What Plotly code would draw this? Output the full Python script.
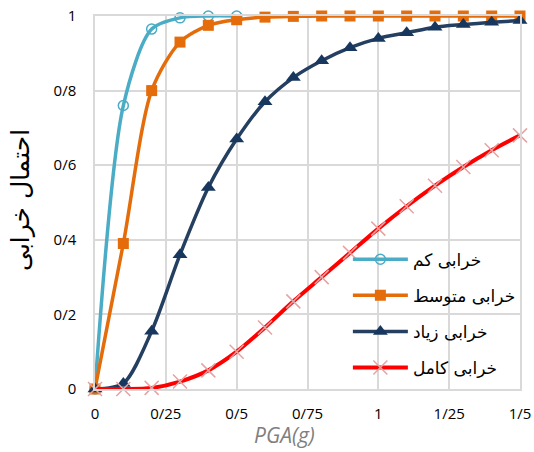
import plotly.graph_objects as go

pga = [0, 0.1, 0.2, 0.3, 0.4, 0.5, 0.6, 0.7, 0.8, 0.9, 1.0, 1.1, 1.2, 1.3, 1.4, 1.5]
pga_low = [0, 0.1, 0.2, 0.3, 0.4, 0.5]
low = [0, 0.76, 0.965, 0.995, 1.0, 1.0]
moderate = [0, 0.39, 0.80, 0.93, 0.975, 0.99, 0.997, 0.999, 1.0, 1.0, 1.0, 1.0, 1.0, 1.0, 1.0, 1.0]
extensive = [0, 0.015, 0.155, 0.36, 0.54, 0.67, 0.77, 0.835, 0.88, 0.915, 0.94, 0.955, 0.97, 0.977, 0.983, 0.988]
complete = [0, 0.0, 0.003, 0.02, 0.05, 0.10, 0.165, 0.235, 0.30, 0.365, 0.43, 0.49, 0.545, 0.595, 0.64, 0.68]

names = ["خرابی کم", "خرابی متوسط", "خرابی زیاد", "خرابی کامل"]
x_title = "PGA(g)"
y_title = "احتمال خرابی"

x_tickvals = [0, 0.25, 0.5, 0.75, 1, 1.25, 1.5]
x_ticktext = ["0", "0/25", "0/5", "0/75", "1", "1/25", "1/5"]
y_tickvals = [0, 0.2, 0.4, 0.6, 0.8, 1]
y_ticktext = ["0", "0/2", "0/4", "0/6", "0/8", "1"]

fig = go.Figure()
fig.add_trace(go.Scatter(
    x=pga_low, y=low, name=names[0], legendgroup="a", mode="lines+markers",
    line=dict(color="#4BACC6", width=3.5, shape="spline", smoothing=0.8),
    marker=dict(symbol="circle-open", size=10, color="#4BACC6", line=dict(width=1.5)),
    cliponaxis=False))
fig.add_trace(go.Scatter(
    x=pga, y=moderate, name=names[1], legendgroup="b", mode="lines+markers",
    line=dict(color="#E46C0A", width=3.5, shape="spline", smoothing=0.8),
    marker=dict(symbol="square", size=11, color="#E46C0A"),
    cliponaxis=False))
fig.add_trace(go.Scatter(
    x=pga, y=extensive, name=names[2], legendgroup="c", mode="lines+markers",
    line=dict(color="#243F60", width=3.5, shape="spline", smoothing=0.8),
    marker=dict(symbol="triangle-up", size=13, color="#17375E"),
    cliponaxis=False))
fig.add_trace(go.Scatter(
    x=pga, y=complete, name=names[3], legendgroup="d", mode="lines+markers",
    line=dict(color="#FF0000", width=4, shape="spline", smoothing=0.8),
    marker=dict(symbol="x-thin", size=14, color="#E6A3A3", line=dict(width=1.5, color="#E6A3A3")),
    cliponaxis=False))

fig.update_layout(
    width=534, height=452,
    margin=dict(l=95, r=14, t=16, b=63, autoexpand=False),
    plot_bgcolor="white", paper_bgcolor="white",
    font=dict(family="DejaVu Sans, sans-serif", color="#000000"),
    showlegend=True,
    legend=dict(x=0.595, y=0.395, xanchor="left", yanchor="top",
                bgcolor="rgba(0,0,0,0)", traceorder="grouped",
                font=dict(family="DejaVu Sans, serif", size=17, color="#000000"),
                itemwidth=55, tracegroupgap=11),
    annotations=[
        dict(text="<i>" + x_title + "</i>", xref="paper", yref="paper", x=0.445, y=-0.122,
             xanchor="center", yanchor="middle", showarrow=False,
             font=dict(family="Open Sans, DejaVu Sans, sans-serif", size=21, color="#7F7F7F")),
        dict(text=y_title, xref="paper", yref="paper", x=-0.174, y=0.507, textangle=-90,
             xanchor="center", yanchor="middle", showarrow=False,
             font=dict(family="DejaVu Sans, serif", size=25, color="#000000")),
    ],
)
fig.update_xaxes(
    range=[0, 1.5], tickvals=x_tickvals, ticktext=x_ticktext, automargin=False,
    showgrid=True, gridcolor="#D9D9D9", gridwidth=1.5,
    showline=True, linecolor="#D9D9D9", linewidth=1.5, mirror=True,
    zeroline=False, ticks="outside", ticklen=10, tickcolor="rgba(0,0,0,0)",
    ticklabeloverflow="allow",
    tickfont=dict(family="Open Sans, DejaVu Sans, sans-serif", size=15, color="#000000"),
)
fig.update_yaxes(
    range=[0, 1], tickvals=y_tickvals, ticktext=y_ticktext, automargin=False,
    showgrid=True, gridcolor="#D9D9D9", gridwidth=1.5,
    showline=True, linecolor="#D9D9D9", linewidth=1.5, mirror=True,
    zeroline=False, ticks="outside", ticklen=14, tickcolor="rgba(0,0,0,0)",
    ticklabeloverflow="allow",
    tickfont=dict(family="Open Sans, DejaVu Sans, sans-serif", size=15, color="#000000"),
)

fig.write_html("out.html", config={"displayModeBar": False},
               post_script="document.body.style.margin='0';document.body.style.overflow='hidden';")
